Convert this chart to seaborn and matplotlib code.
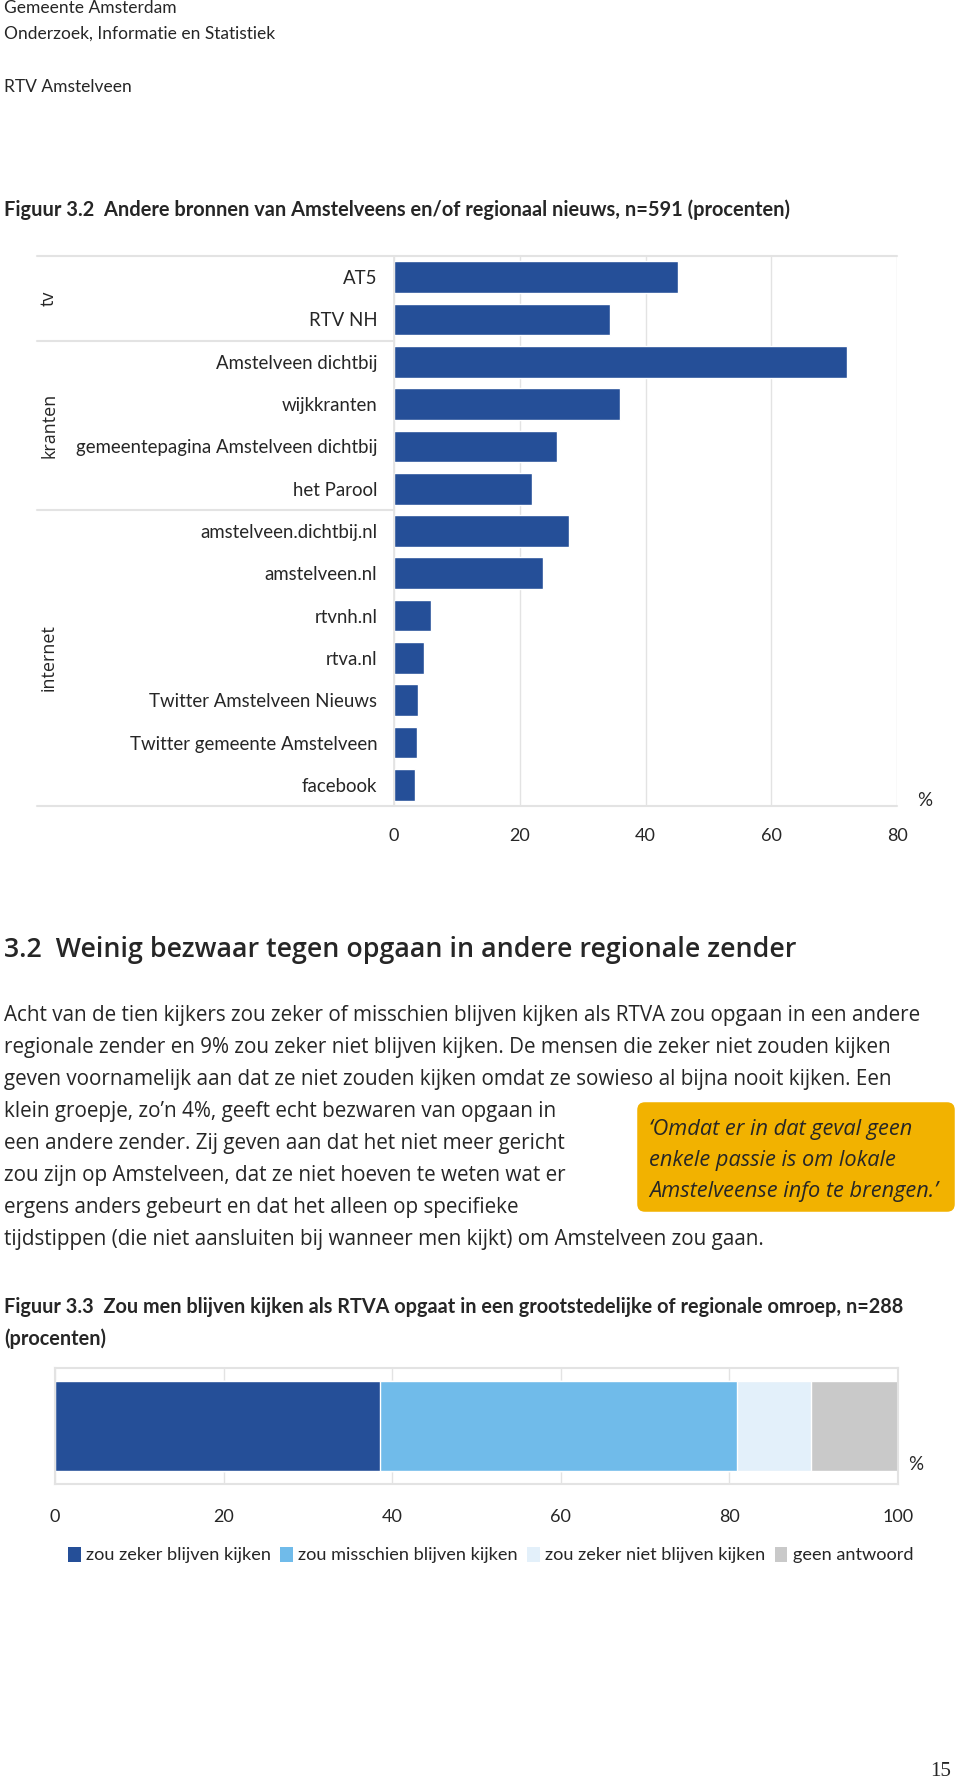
import numpy as np
import pandas as pd
import seaborn as sns
import matplotlib.pyplot as plt
from matplotlib.patches import Patch, FancyBboxPatch

sns.set_theme(style="white")
plt.rcParams['font.family'] = ['Lato', 'DejaVu Sans']
body = ['Open Sans', 'DejaVu Sans']

# --- data figuur 3.2 ---
bronnen = ['AT5', 'RTV NH', 'Amstelveen dichtbij', 'wijkkranten',
           'gemeentepagina Amstelveen dichtbij', 'het Parool',
           'amstelveen.dichtbij.nl', 'amstelveen.nl', 'rtvnh.nl', 'rtva.nl',
           'Twitter Amstelveen Nieuws', 'Twitter gemeente Amstelveen', 'facebook']
procent = [45.1, 34.3, 72.0, 36.0, 26.0, 22.0, 27.9, 23.7, 5.9, 4.8, 3.8, 3.6, 3.4]
groepen = ['tv', 'kranten', 'internet']
groep_grootte = [2, 4, 7]
ticks1 = [0, 20, 40, 60, 80]

# --- data figuur 3.3 ---
antwoorden = ['zou zeker blijven kijken', 'zou misschien blijven kijken',
              'zou zeker niet blijven kijken', 'geen antwoord']
aandeel = [38.5, 42.4, 8.8, 10.3]
ticks2 = [0, 20, 40, 60, 80, 100]

blauw = '#254F98'
kleuren = [blauw, '#70BBEA', '#E3F0FA', '#C9C9C9']
grijs = '#E3E3E3'

W, H = 960, 1786
fig = plt.figure(figsize=(W / 100, H / 100), dpi=100)


def ftext(x, y, s, **kw):
    kw.setdefault('va', 'center')
    fig.text(x / W, 1 - y / H, s, **kw)


def axes_px(x0, y0, x1, y1):
    return fig.add_axes([x0 / W, 1 - y1 / H, (x1 - x0) / W, (y1 - y0) / H])


# header
ftext(4, 8, 'Gemeente Amsterdam', fontsize=12.5)
ftext(4, 34, 'Onderzoek, Informatie en Statistiek', fontsize=12.5)
ftext(4, 87, 'RTV Amstelveen', fontsize=12.5)
ftext(4, 210, 'Figuur 3.2  Andere bronnen van Amstelveens en/of regionaal nieuws, n=591 (procenten)',
      fontsize=14.4, fontweight='bold')

# ---- chart 1 ----
x0, x1 = 394, 897
ax1 = axes_px(x0, 256, x1, 806)
df1 = pd.DataFrame({'bron': bronnen, 'procent': procent})
sns.barplot(data=df1, x='procent', y='bron', orient='h', color=blauw,
            saturation=1, width=0.75, ax=ax1)
ax1.set_xlim(0, 80)
ax1.set_xticks(ticks1)
ax1.set_xlabel('')
ax1.set_ylabel('')
ax1.grid(axis='x', color=grijs, lw=1)
ax1.set_axisbelow(True)
for s in ['top', 'bottom', 'right']:
    ax1.spines[s].set_visible(False)
ax1.spines['left'].set_color(grijs)
ax1.tick_params(axis='x', length=0, pad=16, labelsize=13)
ax1.tick_params(axis='y', length=0, pad=12, labelsize=13.4)
ext = -(x0 - 37) / (x1 - x0)
grens = np.cumsum([0] + groep_grootte) - 0.5
for i, g in enumerate(grens):
    xmax = 1 if i in (0, len(grens) - 1) else 0
    ax1.axhline(g, xmin=ext, xmax=xmax, color=grijs, lw=1.5, clip_on=False)
for g, a, b in zip(groepen, grens[:-1], grens[1:]):
    ym = 256 + (a + b + 1) / 2 * (550 / len(bronnen))
    ftext(49, ym, g, fontsize=13, rotation=90, ha='center', family=body)
ftext(925, 800, '%', fontsize=13.5, ha='center')

# section text
ftext(4, 950, '3.2  Weinig bezwaar tegen opgaan in andere regionale zender',
      fontsize=19.3, fontweight='semibold', family=body)
regels = [
    'Acht van de tien kijkers zou zeker of misschien blijven kijken als RTVA zou opgaan in een andere',
    'regionale zender en 9% zou zeker niet blijven kijken. De mensen die zeker niet zouden kijken',
    'geven voornamelijk aan dat ze niet zouden kijken omdat ze sowieso al bijna nooit kijken. Een',
    'klein groepje, zo\u2019n 4%, geeft echt bezwaren van opgaan in',
    'een andere zender. Zij geven aan dat het niet meer gericht',
    'zou zijn op Amstelveen, dat ze niet hoeven te weten wat er',
    'ergens anders gebeurt en dat het alleen op specifieke',
    'tijdstippen (die niet aansluiten bij wanneer men kijkt) om Amstelveen zou gaan.',
]
for i, r in enumerate(regels):
    ftext(4, 1015 + i * 32.0, r, fontsize=14.9, family=body)

box = FancyBboxPatch((643 / W, 1 - 1206 / H), 306 / W, 98 / H,
                     boxstyle='round,pad=0.006,rounding_size=0.008',
                     transform=fig.transFigure, facecolor='#F2B200',
                     edgecolor='none', mutation_aspect=W / H)
fig.patches.append(box)
citaat = ['\u2018Omdat er in dat geval geen', 'enkele passie is om lokale',
          'Amstelveense info te brengen.\u2019']
for i, r in enumerate(citaat):
    ftext(649, 1129 + i * 31.5, r, fontsize=15.7, style='italic', family=body)

ftext(4, 1307, 'Figuur 3.3  Zou men blijven kijken als RTVA opgaat in een grootstedelijke of regionale omroep, n=288',
      fontsize=14.3, fontweight='bold')
ftext(4, 1339, '(procenten)', fontsize=14.3, fontweight='bold')

# ---- chart 2 ----
ax2 = axes_px(55, 1368, 898, 1484)
cum = np.cumsum(aandeel)
for c, k in reversed(list(zip(cum, kleuren))):
    sns.barplot(x=[c], y=['RTVA'], orient='h', color=k, saturation=1,
                width=0.776, ax=ax2)
ax2.set_xlim(0, 100)
ax2.set_xticks(ticks2)
ax2.set_yticks([])
ax2.set_xlabel('')
ax2.set_ylabel('')
ax2.grid(axis='x', color=grijs, lw=1)
ax2.set_axisbelow(True)
for s in ax2.spines.values():
    s.set_color(grijs)
    s.set_linewidth(1.5)
ax2.tick_params(axis='x', length=0, pad=18, labelsize=13)
ftext(916, 1465, '%', fontsize=13.5, ha='center')

handles = [Patch(facecolor=k, edgecolor='none') for k in kleuren]
fig.legend(handles, antwoorden, loc='center left', ncol=4, frameon=False,
           bbox_to_anchor=(68 / W, 1 - 1555 / H), fontsize=13.1,
           handlelength=0.7, handleheight=0.9, handletextpad=0.3,
           columnspacing=0.5, borderaxespad=0, borderpad=0)

ftext(941, 1772, '15', fontsize=15, ha='center', family=['Liberation Serif', 'DejaVu Serif'])

fig.savefig('out.png', dpi=100)
